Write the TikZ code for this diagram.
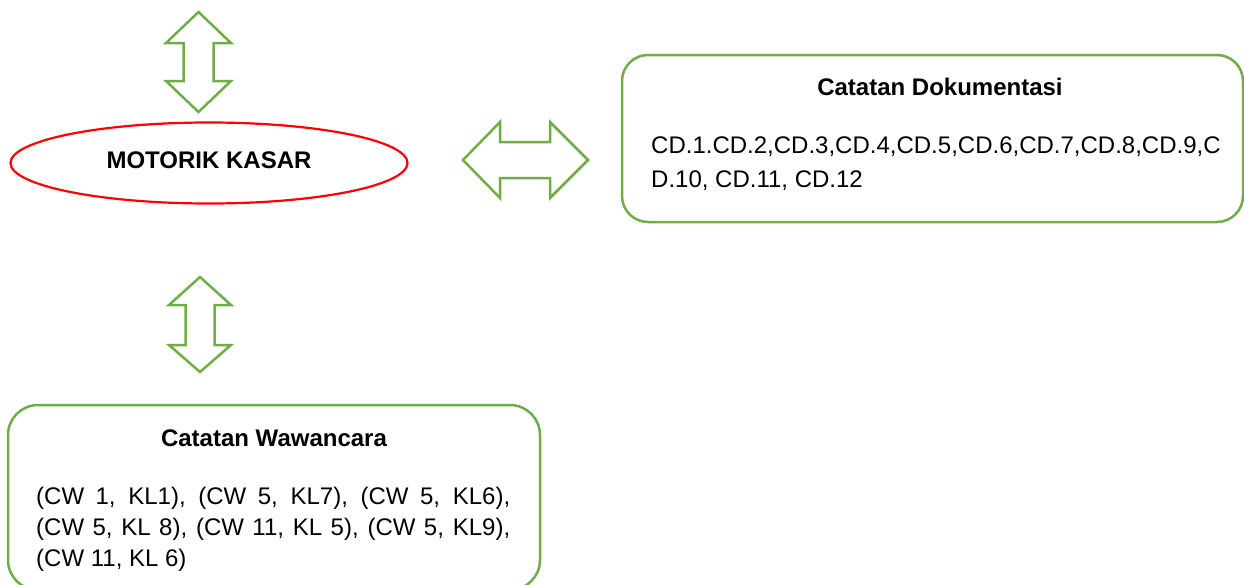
\documentclass[tikz,border=0pt]{standalone}
\usepackage{fontspec}
\setmainfont{Liberation Sans}
\usetikzlibrary{shapes.geometric}
\definecolor{boxgreen}{RGB}{112,173,71}
\definecolor{ellred}{RGB}{255,0,0}
\begin{document}
\begin{tikzpicture}[x=1pt,y=-1pt,
  greenbox/.style={draw=boxgreen,line width=2.5pt,rounded corners=30pt},
  dblarrow/.style={draw=boxgreen,line width=2.5pt,line join=miter,fill=white},
  titletext/.style={font=\fontsize{24}{30}\selectfont\bfseries,inner sep=0pt},
  bodytext/.style={font=\fontsize{24}{34}\selectfont,inner sep=0pt,anchor=north west}]
\useasboundingbox (0,0) rectangle (1244,584);
% ellipse
\node[ellipse,draw=ellred,line width=2.2pt,minimum width=397pt,minimum height=81pt,inner sep=0pt,
  font=\fontsize{24}{30}\selectfont\bfseries] (mk) at (209,163) {\raisebox{6pt}{MOTORIK KASAR}};
% top arrow
\draw[dblarrow] (198.5,12) -- (231,43) -- (213.5,43) -- (213.5,81) -- (231,81) -- (198.5,112)
  -- (166,81) -- (183.5,81) -- (183.5,43) -- (166,43) -- cycle;
% horizontal arrow
\draw[dblarrow] (463,160) -- (500,122) -- (500,142) -- (550,142) -- (550,122) -- (588,160)
  -- (550,198) -- (550,178) -- (500,178) -- (500,198) -- cycle;
% bottom arrow
\draw[dblarrow] (200,277) -- (231,305) -- (214.5,305) -- (214.5,345) -- (231,345) -- (200,372)
  -- (169,345) -- (185.5,345) -- (185.5,305) -- (169,305) -- cycle;
% Dokumentasi box
\draw[greenbox,rounded corners=26pt] (622,55) rectangle (1243,222);
\node[titletext] (cdtitle) at (940,87) {Catatan Dokumentasi};
\node[bodytext,align=left] (cdbody) at (651,137) {CD.1.CD.2,CD.3,CD.4,CD.5,CD.6,CD.7,CD.8,CD.9,C\\D.10, CD.11, CD.12};
% Wawancara box
\draw[greenbox] (8,405) rectangle (540,590);
\node[titletext] (cwtitle) at (274,438) {Catatan Wawancara};
\node[font=\fontsize{24}{31}\selectfont,inner sep=0pt,anchor=north west,text width=474pt,align=justify] (cwbody) at (36,487)
  {(CW 1, KL1), (CW 5, KL7), (CW 5, KL6),\linebreak (CW 5, KL 8), (CW 11, KL 5), (CW 5, KL9),\linebreak (CW 11, KL 6)};
\end{tikzpicture}
\end{document}
